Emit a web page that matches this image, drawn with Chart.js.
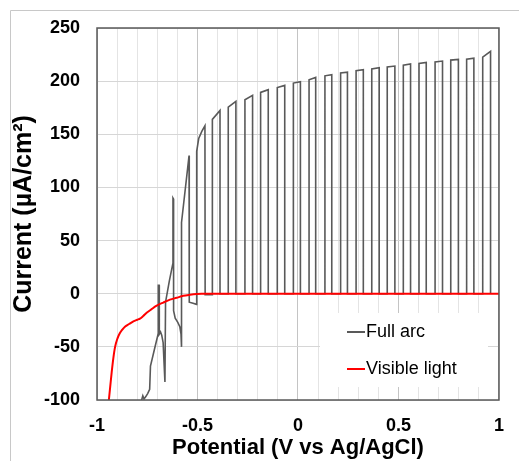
<!DOCTYPE html>
<html>
<head>
<meta charset="utf-8">
<script src="https://cdn.jsdelivr.net/npm/chart.js@4.4.0/dist/chart.umd.min.js"></script>
<style>
  html, body { margin: 0; padding: 0; background: #fff; }
  canvas { display: block; }
</style>
</head>
<body>
<canvas id="ivChart" width="519" height="461"></canvas>
<script>
// Full arc: onset region read point by point (scan order), up to the end of the first clean chop
const earlyV = [-0.778, -0.772, -0.766, -0.758, -0.748, -0.738, -0.734, -0.715, -0.696, -0.695, -0.691, -0.690,
  -0.684, -0.678, -0.671, -0.662, -0.659, -0.640, -0.623, -0.622, -0.619, -0.619, -0.611, -0.598, -0.588,
  -0.582, -0.580, -0.579, -0.542, -0.541, -0.522, -0.505, -0.504, -0.494, -0.478, -0.463, -0.462];
const earlyI = [-100, -96, -99, -97, -94, -90, -68, -53, -38, 8, 8, -38,
  -36, -39, -46, -83, -8, 12, 28, 90, 89, -16, -23, -27, -31,
  -38, -50, 67, 130, -8, -9, -10, 134, 146, 153, 158, -1];

// Full arc: chopped part (light on / light off edges and plateau currents)
const chopOnV  = [-0.426, -0.347, -0.264, -0.186, -0.103, -0.023, 0.055, 0.134, 0.212, 0.289, 0.367, 0.444, 0.524, 0.602, 0.682, 0.760, 0.839, 0.919];
const chopOffV = [-0.388, -0.309, -0.226, -0.148, -0.066, 0.012, 0.088, 0.168, 0.246, 0.325, 0.404, 0.482, 0.560, 0.638, 0.719, 0.798, 0.875, 0.958];
const topOnI   = [164, 175.6, 182.5, 189.4, 194, 198.2, 201.3, 205, 207.6, 209.8, 211.4, 213.3, 215.1, 216.7, 218, 219.8, 220.7, 222.6];
const topOffI  = [172.5, 181, 186.6, 192, 196, 199.4, 203.5, 206, 208.5, 210.7, 212.6, 214.2, 216.1, 217.6, 218.9, 220.4, 221.6, 228];
const darkI    = [0, 0, 0, 0, 0, 0, 0, 0, 0, 0, 0, 0, 0, 0, 0, 0, 0, 0];

// Visible light
const visV = [-0.941, -0.934, -0.927, -0.919, -0.910, -0.898, -0.886, -0.873, -0.861, -0.840, -0.819, -0.800, -0.786,
  -0.770, -0.753, -0.728, -0.703, -0.670, -0.637, -0.604, -0.571, -0.537, -0.505, -0.480, 1.0];
const visI = [-100, -87, -74, -61, -50, -42, -37, -33.5, -31, -28.5, -26, -24.5, -23.5,
  -21, -18, -14.5, -11.3, -8.3, -5.6, -3.8, -2, -1, -0.3, 0, 0];

const seriesLabels = ['Full arc', 'Visible light'];
const xTitle = 'Potential (V vs Ag/AgCl)';
const yTitle = 'Current (µA/cm²)';

const FONT = "'Liberation Sans', Arial, sans-serif";

// build the polyline for the chopped trace
const fullArc = earlyV.map((v, i) => ({ x: v, y: earlyI[i] }));
let lastDark = earlyI[earlyI.length - 1];
chopOnV.forEach((v, i) => {
  fullArc.push({ x: v, y: lastDark });
  fullArc.push({ x: v, y: topOnI[i] });
  fullArc.push({ x: chopOffV[i], y: topOffI[i] });
  fullArc.push({ x: chopOffV[i], y: darkI[i] });
  lastDark = darkI[i];
});
const visible = visV.map((v, i) => ({ x: v, y: visI[i] }));

const colors = ['#595959', '#ff0000'];

const framePlugin = {
  id: 'frame',
  beforeDraw(chart) {
    const c = chart.ctx;
    c.save();
    c.fillStyle = '#fff';
    c.fillRect(0, 0, chart.width, chart.height);
    c.strokeStyle = '#c8c8c8';
    c.lineWidth = 1;
    c.beginPath();
    c.moveTo(10.5, chart.height);
    c.lineTo(10.5, 10.5);
    c.lineTo(chart.width, 10.5);
    c.stroke();
    c.restore();
  },
  beforeDatasetsDraw(chart) {
    // white legend box hides the grid behind it
    const ca = chart.chartArea;
    const c = chart.ctx;
    c.save();
    c.fillStyle = '#fff';
    c.fillRect(ca.right - 179, ca.bottom - 87, 168, 74);
    c.restore();
  },
  afterDatasetsDraw(chart) {
    const ca = chart.chartArea;
    const c = chart.ctx;
    c.save();
    // plot box
    c.strokeStyle = '#595959';
    c.lineWidth = 1.5;
    c.strokeRect(ca.left, ca.top, ca.right - ca.left, ca.bottom - ca.top);
    // legend
    c.font = '18px ' + FONT;
    c.textBaseline = 'middle';
    c.fillStyle = '#000';
    seriesLabels.forEach((lab, i) => {
      const y = ca.bottom - 68 + i * 37;
      c.strokeStyle = colors[i];
      c.lineWidth = 2;
      c.beginPath();
      c.moveTo(ca.right - 152, y);
      c.lineTo(ca.right - 134, y);
      c.stroke();
      c.fillText(lab, ca.right - 133, y);
    });
    c.restore();
  }
};

new Chart(document.getElementById('ivChart'), {
  type: 'line',
  data: {
    datasets: [
      {
        label: seriesLabels[0],
        data: fullArc,
        borderColor: colors[0],
        borderWidth: 1.6,
        pointRadius: 0,
        tension: 0,
        order: 2
      },
      {
        label: seriesLabels[1],
        data: visible,
        borderColor: colors[1],
        borderWidth: 2,
        pointRadius: 0,
        cubicInterpolationMode: 'monotone',
        order: 1
      }
    ]
  },
  options: {
    responsive: false,
    animation: false,
    devicePixelRatio: 1,
    layout: { padding: { left: 0, top: 28, right: 20, bottom: 0 } },
    plugins: {
      legend: { display: false },
      tooltip: { enabled: false }
    },
    scales: {
      x: {
        type: 'linear',
        min: -1,
        max: 1,
        afterFit: (scale) => { scale.height = 61; },
        border: { display: false },
        grid: {
          drawTicks: false,
          color: (ctx) => {
            const v = ctx.tick ? ctx.tick.value : 0;
            return Math.abs(v * 2 - Math.round(v * 2)) < 1e-6 ? '#c4c4c4' : '#e4e4e4';
          }
        },
        ticks: {
          stepSize: 0.1,
          autoSkip: false,
          maxRotation: 0,
          padding: 15,
          color: '#000',
          font: { family: FONT, size: 18, weight: 'bold' },
          callback: (v) => Math.abs(v * 2 - Math.round(v * 2)) < 1e-6 ? String(Math.round(v * 2) / 2) : ''
        },
        title: {
          display: true,
          text: xTitle,
          color: '#000',
          font: { family: FONT, size: 22, weight: 'bold' },
          padding: { top: 0, bottom: 0 }
        }
      },
      y: {
        min: -100,
        max: 250,
        afterFit: (scale) => { scale.width = 97; },
        border: { display: false },
        grid: { drawTicks: false, color: '#d6d6d6' },
        ticks: {
          stepSize: 50,
          padding: 17,
          color: '#000',
          font: { family: FONT, size: 18, weight: 'bold' }
        },
        title: {
          display: true,
          text: yTitle,
          color: '#000',
          font: { family: FONT, size: 25, weight: 'bold' },
          padding: { top: 9, bottom: 0 }
        }
      }
    }
  },
  plugins: [framePlugin]
});
</script>
</body>
</html>
